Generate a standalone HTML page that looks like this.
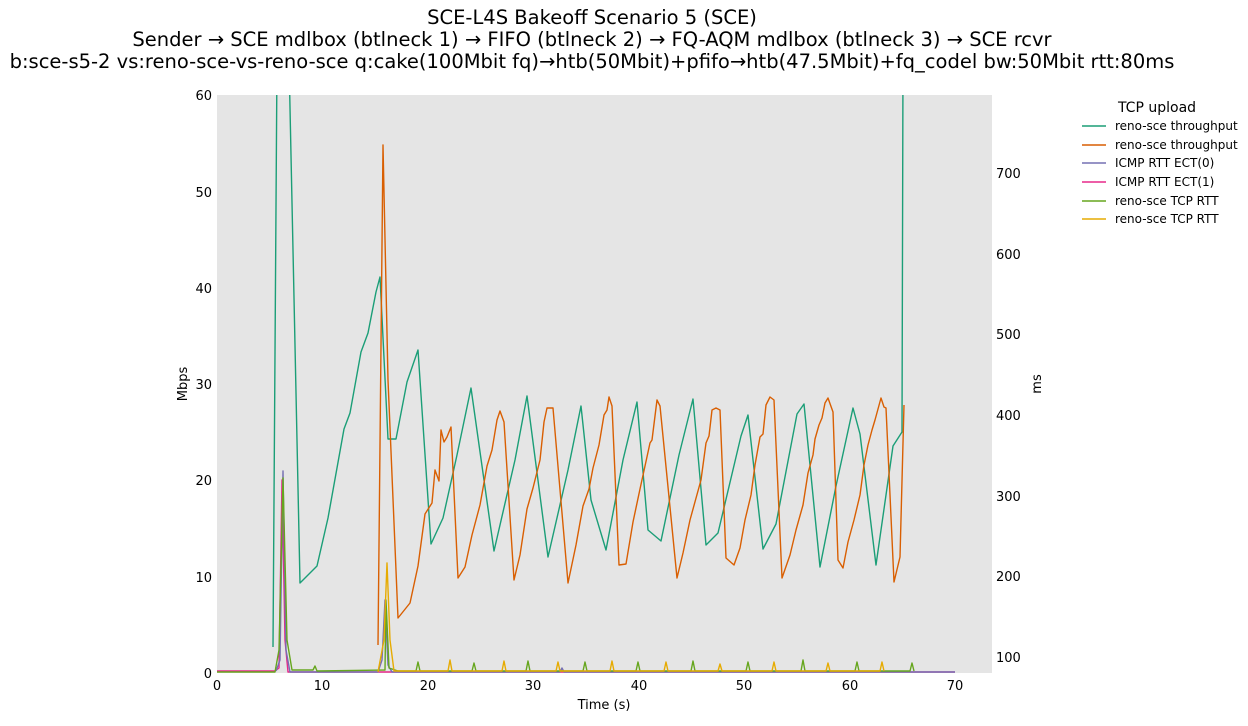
<!DOCTYPE html>
<html><head><meta charset="utf-8"><style>
body{margin:0;background:#fff;font-family:"Liberation Sans","DejaVu Sans",sans-serif}
svg text{font-family:"DejaVu Sans","Liberation Sans",sans-serif}
</style></head><body>
<svg width="1248" height="721" xmlns="http://www.w3.org/2000/svg">
<rect width="1248" height="721" fill="#fff"/>
<g font-size="19.5" text-anchor="middle" fill="#000">
<text x="592" y="24">SCE-L4S Bakeoff Scenario 5 (SCE)</text>
<text x="592" y="46">Sender → SCE mdlbox (btlneck 1) → FIFO (btlneck 2) → FQ-AQM mdlbox (btlneck 3) → SCE rcvr</text>
<text x="592" y="68">b:sce-s5-2 vs:reno-sce-vs-reno-sce q:cake(100Mbit fq)→htb(50Mbit)+pfifo→htb(47.5Mbit)+fq_codel bw:50Mbit rtt:80ms</text>
</g>
<rect x="217" y="95" width="775" height="578" fill="#e5e5e5"/>
<defs><clipPath id="c"><rect x="217" y="95" width="775" height="578"/></clipPath></defs>
<g font-size="13" fill="#000">
<g text-anchor="end">
<text x="212" y="678">0</text><text x="212" y="582">10</text><text x="212" y="485">20</text><text x="212" y="389">30</text><text x="212" y="293">40</text><text x="212" y="197">50</text><text x="212" y="100">60</text>
</g>
<g>
<text x="996" y="662">100</text><text x="996" y="581">200</text><text x="996" y="501">300</text><text x="996" y="420">400</text><text x="996" y="339">500</text><text x="996" y="259">600</text><text x="996" y="178">700</text>
</g>
<g text-anchor="middle">
<text x="217" y="690">0</text><text x="322" y="690">10</text><text x="428" y="690">20</text><text x="533" y="690">30</text><text x="639" y="690">40</text><text x="744" y="690">50</text><text x="850" y="690">60</text><text x="955" y="690">70</text>
<text x="604" y="709">Time (s)</text>
</g>
<text transform="translate(187,384) rotate(-90)" text-anchor="middle">Mbps</text>
<text transform="translate(1041,384) rotate(-90)" text-anchor="middle">ms</text>
</g>
<g clip-path="url(#c)" fill="none" stroke-width="1.4" stroke-linejoin="round">
<polyline stroke="#e7298a" points="217,671 275,671 279,668 282,480 285,640 288,672 955,672"/>
<polyline stroke="#7570b3" points="276,671 280,660 283,471 286,650 290,672 378,672 382,660 385,600 388,665 392,672 560,672 562,668 564,672 955,672"/>
<polyline stroke="#66a61e" points="217,672 275,672 279,650 283,478 287,640 292,670 313,670 315,666 317,671 385,670 386,600 389,668 398,671 416,671 418,662 420,671 472,671 474,663 476,671 526,671 528,661 530,671 583,671 585,662 587,671 636,671 638,662 640,671 691,671 693,661 695,671 746,671 748,662 750,671 801,671 803,660 805,671 855,671 857,662 859,671 910,671 912,663 914,671"/>
<polyline stroke="#e6ab02" points="378,672 384,640 387,563 390,640 394,671 448,671 450,660 452,671 502,671 504,661 506,671 556,671 558,662 560,671 610,671 612,661 614,671 664,671 666,662 668,671 718,671 720,664 722,671 772,671 774,662 776,671 826,671 828,663 830,671 880,671 882,662 884,671"/>
<polyline stroke="#1b9e77" points="273,647 277,60 289,60 300,583 317,566 328,518 344,429 350,413 361,352 368,333 376,292 380,277 388,439 396,439 407,382 418,350 431,544 443,518 457,455 471,388 494,551 515,460 527,396 548,557 568,470 581,406 591,500 606,550 623,460 637,402 648,530 661,541 679,455 693,399 706,545 718,533 741,436 748,415 763,549 776,524 797,414 804,404 820,567 836,486 853,408 860,434 876,565 893,446 902,432 903,60"/>
<polyline stroke="#d95f02" points="378,645 383,145 388,380 398,618 410,603 418,566 425,514 432,503 435,470 439,481 441,430 444,442 447,437 451,427 458,578 465,567 472,535 480,505 487,466 492,450 497,420 500,411 504,422 514,580 520,555 527,509 533,488 540,460 544,422 547,408 553,408 568,583 576,545 583,506 589,489 593,468 599,445 604,415 607,410 609,397 612,406 619,565 626,564 633,522 640,489 650,443 652,440 657,400 660,406 677,578 683,553 690,520 701,480 706,443 709,436 712,410 716,408 720,410 726,558 734,565 740,548 745,520 751,495 755,465 760,437 763,434 766,405 770,397 774,400 782,578 790,555 796,530 803,505 808,473 813,455 815,439 819,425 822,418 825,403 828,398 833,412 838,560 843,568 848,542 854,520 860,495 864,465 868,445 872,430 875,420 881,398 884,407 886,408 894,582 900,557 904,405"/>
</g>
<g font-size="12" fill="#000">
<text x="1157" y="112" text-anchor="middle" font-size="14">TCP upload</text>
<g stroke-width="1.5">
<line x1="1082" y1="126" x2="1106" y2="126" stroke="#1b9e77"/>
<line x1="1082" y1="145" x2="1106" y2="145" stroke="#d95f02"/>
<line x1="1082" y1="163" x2="1106" y2="163" stroke="#7570b3"/>
<line x1="1082" y1="182" x2="1106" y2="182" stroke="#e7298a"/>
<line x1="1082" y1="201" x2="1106" y2="201" stroke="#66a61e"/>
<line x1="1082" y1="219" x2="1106" y2="219" stroke="#e6ab02"/>
</g>
<text x="1115" y="130">reno-sce throughput</text>
<text x="1115" y="149">reno-sce throughput</text>
<text x="1115" y="167">ICMP RTT ECT(0)</text>
<text x="1115" y="186">ICMP RTT ECT(1)</text>
<text x="1115" y="205">reno-sce TCP RTT</text>
<text x="1115" y="223">reno-sce TCP RTT</text>
</g>
</svg>
</body></html>
